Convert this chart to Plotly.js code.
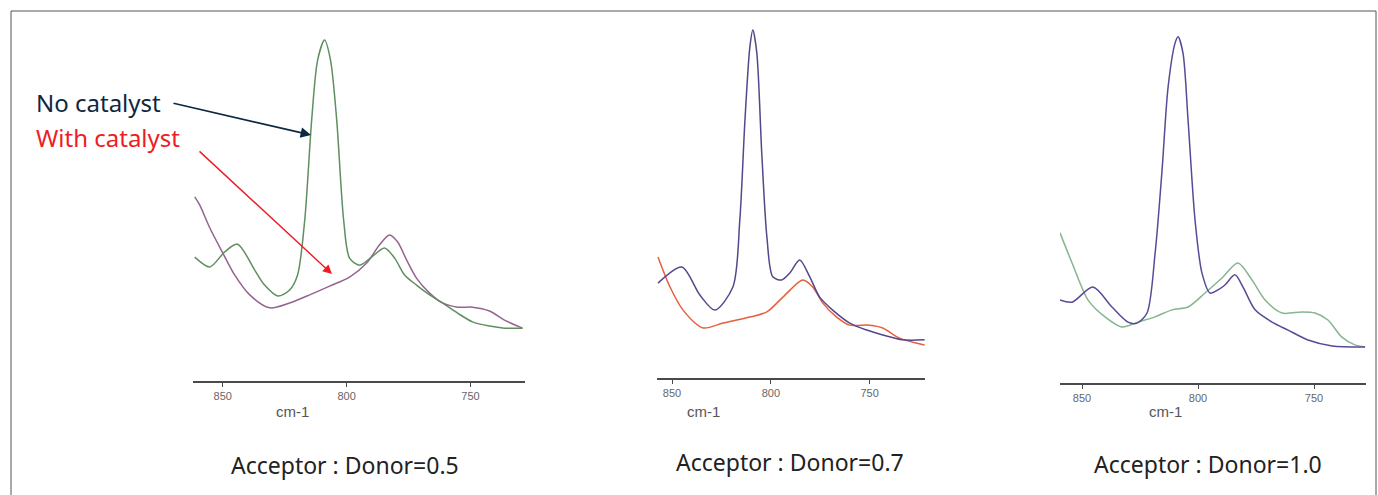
<!DOCTYPE html>
<html>
<head>
<meta charset="utf-8">
<script src="https://cdn.plot.ly/plotly-3.0.1.min.js"></script>
<style>html,body{margin:0;padding:0;background:#fff;}#chart{width:1378px;height:495px;}</style>
</head>
<body>
<div id="chart"></div>
<script>
// ---- Data (wavenumber in cm-1, relative absorbance) ----
const panelTitles = ["Acceptor : Donor=0.5", "Acceptor : Donor=0.7", "Acceptor : Donor=1.0"];
const tickVals = [850, 800, 750];
const tickText = ["850", "800", "750"];
const seriesNames = ["No catalyst", "With catalyst"];

// Panel 1 (A:D = 0.5)
const p1NoCatWn  = [861.3, 855.2, 849.2, 844.0, 837.1, 833.1, 827.8, 823.0, 819.8, 816.9, 814.1, 811.7, 808.9, 806.5, 804.0, 801.2, 798.8, 794.8, 789.9, 784.7, 780.6, 776.6, 771.8, 766.5, 761.3, 755.2, 749.2, 742.3, 736.3, 729.0];
const p1NoCatAbs = [0.354, 0.326, 0.369, 0.391, 0.317, 0.274, 0.243, 0.260, 0.303, 0.460, 0.746, 0.917, 0.974, 0.917, 0.746, 0.460, 0.351, 0.331, 0.354, 0.380, 0.351, 0.303, 0.274, 0.246, 0.223, 0.194, 0.169, 0.157, 0.151, 0.151];
const p1CatWn  = [861.3, 859.3, 855.2, 850.0, 845.2, 839.1, 831.0, 823.0, 814.9, 806.9, 798.8, 791.9, 786.7, 782.7, 779.4, 775.8, 771.8, 766.5, 761.3, 755.2, 749.2, 742.3, 736.3, 729.0];
const p1CatAbs = [0.526, 0.503, 0.437, 0.366, 0.303, 0.246, 0.209, 0.223, 0.246, 0.271, 0.297, 0.337, 0.389, 0.417, 0.397, 0.346, 0.294, 0.251, 0.223, 0.211, 0.211, 0.200, 0.174, 0.151];

// Panel 2 (A:D = 0.7)
const p2NoCatWn  = [857.1, 845.0, 835.9, 828.3, 819.2, 815.7, 813.1, 810.6, 809.1, 807.1, 804.6, 802.0, 799.0, 794.5, 790.4, 785.4, 780.3, 775.3, 768.7, 760.1, 751.5, 743.4, 733.3, 722.2];
const p2NoCatAbs = [0.271, 0.317, 0.237, 0.194, 0.260, 0.451, 0.737, 0.946, 0.994, 0.929, 0.643, 0.403, 0.289, 0.280, 0.300, 0.337, 0.289, 0.231, 0.194, 0.157, 0.137, 0.123, 0.109, 0.109];
const p2CatWn  = [857.1, 851.0, 844.4, 834.3, 824.2, 810.6, 802.0, 793.9, 783.8, 778.8, 773.7, 766.7, 760.1, 750.0, 743.4, 734.9, 722.2];
const p2CatAbs = [0.346, 0.260, 0.194, 0.143, 0.157, 0.174, 0.189, 0.231, 0.280, 0.260, 0.214, 0.174, 0.151, 0.151, 0.143, 0.114, 0.094];

// Panel 3 (A:D = 1.0)
const p3NoCatWn  = [859.5, 854.3, 845.3, 837.1, 830.2, 826.3, 822.0, 818.5, 815.5, 812.9, 809.9, 808.6, 806.5, 804.3, 801.3, 798.3, 794.8, 791.4, 788.4, 784.1, 780.6, 775.4, 768.1, 761.2, 752.6, 742.2, 728.0];
const p3NoCatAbs = [0.237, 0.231, 0.274, 0.217, 0.174, 0.171, 0.200, 0.371, 0.609, 0.846, 0.971, 0.989, 0.943, 0.751, 0.466, 0.314, 0.257, 0.266, 0.280, 0.309, 0.274, 0.209, 0.174, 0.151, 0.123, 0.106, 0.103];
const p3CatWn  = [859.5, 854.3, 847.4, 840.1, 832.8, 825.9, 818.5, 811.2, 804.3, 797.0, 789.7, 782.8, 776.7, 771.1, 763.8, 755.2, 749.6, 744.0, 738.0, 732.4, 728.0];
const p3CatAbs = [0.429, 0.343, 0.237, 0.189, 0.160, 0.174, 0.189, 0.209, 0.217, 0.257, 0.300, 0.343, 0.294, 0.237, 0.200, 0.203, 0.200, 0.180, 0.131, 0.109, 0.103];

// ---- Layout geometry (pixels) ----
const W = 1378, H = 495;
const fx = p => p / W;
const fy = p => 1 - p / H;

const panels = [
  {x0: 193, x1: 525, yb: 381, yt: 31, range: [862, 728], colNo: '#5f8f5f', colCat: '#94648f', capX: 345, capY: 465, cmX: 292},
  {x0: 657, x1: 925, yb: 378, yt: 28, range: [857.6, 722], colNo: '#56468a', colCat: '#e5603d', capX: 790, capY: 462, cmX: 703},
  {x0: 1060, x1: 1366, yb: 383, yt: 33, range: [859.5, 727.6], colNo: '#574a96', colCat: '#86b58f', capX: 1208, capY: 464, cmX: 1165}
];
const dataSets = [
  [p1NoCatWn, p1NoCatAbs, p1CatWn, p1CatAbs],
  [p2NoCatWn, p2NoCatAbs, p2CatWn, p2CatAbs],
  [p3NoCatWn, p3NoCatAbs, p3CatWn, p3CatAbs]
];

const traces = [];
const layout = {
  width: W, height: H,
  margin: {l: 0, r: 0, t: 0, b: 0},
  paper_bgcolor: '#ffffff', plot_bgcolor: 'rgba(0,0,0,0)',
  showlegend: false,
  font: {family: 'Liberation Sans, Arial, sans-serif'},
  annotations: [], shapes: []
};

panels.forEach((p, i) => {
  const xa = i === 0 ? 'x' : 'x' + (i + 1);
  const ya = i === 0 ? 'y' : 'y' + (i + 1);
  const d = dataSets[i];
  traces.push({x: d[2], y: d[3], xaxis: xa, yaxis: ya, mode: 'lines', name: seriesNames[1],
    line: {color: p.colCat, width: 1.5, shape: 'spline', smoothing: 0.8}});
  traces.push({x: d[0], y: d[1], xaxis: xa, yaxis: ya, mode: 'lines', name: seriesNames[0],
    line: {color: p.colNo, width: 1.5, shape: 'spline', smoothing: 0.8}});
  const xk = i === 0 ? 'xaxis' : 'xaxis' + (i + 1);
  const yk = i === 0 ? 'yaxis' : 'yaxis' + (i + 1);
  layout[xk] = {
    domain: [fx(p.x0), fx(p.x1)], anchor: ya, range: p.range,
    showgrid: false, zeroline: false, showline: true, linecolor: '#4a4a4a', linewidth: 1.5,
    ticks: 'outside', ticklen: 4, tickcolor: '#4a4a4a', tickvals: tickVals, ticktext: tickText,
    tickfont: {size: 11, color: '#666', family: 'Liberation Sans, Arial, sans-serif'}
  };
  layout[yk] = {
    domain: [fy(p.yb), fy(p.yt)], anchor: xa, range: [0, 1],
    visible: false, showgrid: false, zeroline: false
  };
  layout.annotations.push({xref: 'paper', yref: 'paper', x: fx(p.cmX), y: fy(411), text: 'cm-1',
    showarrow: false, xanchor: 'center', yanchor: 'middle', font: {size: 15, color: '#555'}});
  layout.annotations.push({xref: 'paper', yref: 'paper', x: fx(p.capX), y: fy(p.capY), text: panelTitles[i],
    showarrow: false, xanchor: 'center', yanchor: 'middle', font: {size: 23, color: '#222', family: 'Noto Sans, sans-serif'}});
});

// Series labels with arrows
layout.annotations.push({xref: 'paper', yref: 'paper', x: fx(34), y: fy(102), text: seriesNames[0],
  showarrow: false, xanchor: 'left', yanchor: 'middle', font: {size: 24, color: '#0e2841', family: 'Noto Sans, sans-serif'}});
layout.annotations.push({xref: 'paper', yref: 'paper', x: fx(34), y: fy(137), text: seriesNames[1],
  showarrow: false, xanchor: 'left', yanchor: 'middle', font: {size: 24, color: '#ee1c25', family: 'Noto Sans, sans-serif'}});
layout.annotations.push({xref: 'paper', yref: 'paper', x: fx(311), y: fy(135), text: '',
  showarrow: true, arrowhead: 2, arrowsize: 1.3, arrowwidth: 1.6, arrowcolor: '#0e2841', ax: -139, ay: -32});
layout.annotations.push({xref: 'paper', yref: 'paper', x: fx(332), y: fy(274), text: '',
  showarrow: true, arrowhead: 2, arrowsize: 1.3, arrowwidth: 1.4, arrowcolor: '#ee1c25', ax: -134, ay: -124});

// slide frame
layout.shapes.push({type: 'rect', xref: 'paper', yref: 'paper', x0: fx(11), x1: fx(1376), y0: fy(520), y1: fy(11),
  line: {color: '#555', width: 1}});

Plotly.newPlot('chart', traces, layout, {displayModeBar: false, staticPlot: true});
</script>
</body>
</html>
